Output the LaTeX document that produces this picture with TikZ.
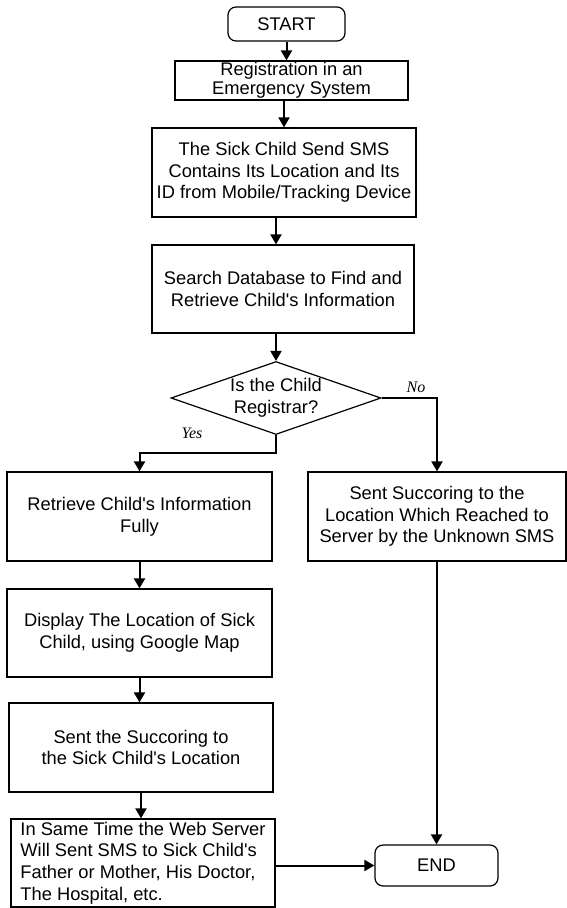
\documentclass[tikz,border=0pt]{standalone}
\usepackage{fontspec}
\setmainfont{Liberation Sans}[Ligatures=TeXOff]
\newfontfamily\labelfont{Liberation Serif}
\usetikzlibrary{arrows.meta,shapes.geometric}

\begin{document}
\begin{tikzpicture}[x=1pt, y=-1pt,
		box/.style={draw, line width=1.2pt, align=center, inner sep=0pt, font=\fontsize{18.3}{21.6}\selectfont},
		term/.style={box, rounded corners=8pt},
		flow/.style={line width=2pt, -{Triangle[width=11pt,length=10pt]}},
		lbl/.style={font=\labelfont\itshape\fontsize{16}{16}\selectfont}]
			%%%%% START %%%%%
			
			\fill[white] (0, 0) rectangle (567, 908);
			\useasboundingbox (0, 0) rectangle (567, 908);
			
			\node[term, minimum width=117pt, minimum height=34pt] (start) at (286.5, 24) {START};
			\node[box, minimum width=233pt, minimum height=39pt, font=\fontsize{18.3}{19}\selectfont] (reg) at (291.5, 80.5) {Registration in an\\ Emergency System};
			\node[box, minimum width=264pt, minimum height=89pt] (sms) at (284, 172.5) {The Sick Child Send SMS\\ Contains Its Location and Its\\ ID from Mobile/Tracking Device};
			\node[box, minimum width=262pt, minimum height=88pt] (search) at (283, 289) {Search Database to Find and\\ Retrieve Child's Information};
			
			\node[box, diamond, aspect=2.88, minimum width=210pt, minimum height=73pt] (check) at (276, 398) {Is the Child\\ Registrar?};
			\node[lbl] (no) at (416, 387) {No};
			\node[lbl] (yes) at (192, 433) {Yes};
			
			\node[box, minimum width=265pt, minimum height=89pt] (retrieve) at (139.5, 516.5) {Retrieve Child's Information\\ Fully};
			\node[box, minimum width=258pt, minimum height=89pt] (unknown) at (437, 516.5) {Sent Succoring to the\\ Location Which Reached to\\ Server by the Unknown SMS};
			\node[box, minimum width=265pt, minimum height=88pt] (display) at (139.5, 633) {Display The Location of Sick\\ Child, using Google Map};
			\node[box, minimum width=264pt, minimum height=89pt] (succor) at (141, 747.5) {Sent the Succoring to\\ the Sick Child's Location};
			\node[box, align=left, minimum width=264pt, minimum height=88pt] (notify) at (143, 863) {In Same Time the Web Server\\ Will Sent SMS to Sick Child's\\ Father or Mother, His Doctor,\\ The Hospital, etc.};
			\node[term, minimum width=123pt, minimum height=41pt] (finish) at (436.5, 865.5) {END};
			
			\draw[flow] (start.south) -- (start.south |- reg.north);
			\draw[flow] (sms.north |- reg.south) -- (sms.north);
			\draw[flow] (check.north |- sms.south) -- (check.north |- search.north);
			\draw[flow] (check.north |- search.south) -- (check.north);
			\draw[flow] (check.east) -- (check.east -| unknown.north) -- (unknown.north);
			\draw[flow] (check.south) -- ++(0, 18) -| (retrieve.north);
			\draw[flow] (retrieve.south) -- (display.north);
			\draw[flow] (display.south) -- (display.south |- succor.north);
			\draw[flow] (succor.south) -- (succor.south |- notify.north);
			\draw[flow] (notify.east |- finish.west) -- (finish.west);
			\draw[flow] (unknown.south -| finish.north) -- (finish.north);
			
			%%%%% END %%%%%
		\end{tikzpicture}
\end{document}
